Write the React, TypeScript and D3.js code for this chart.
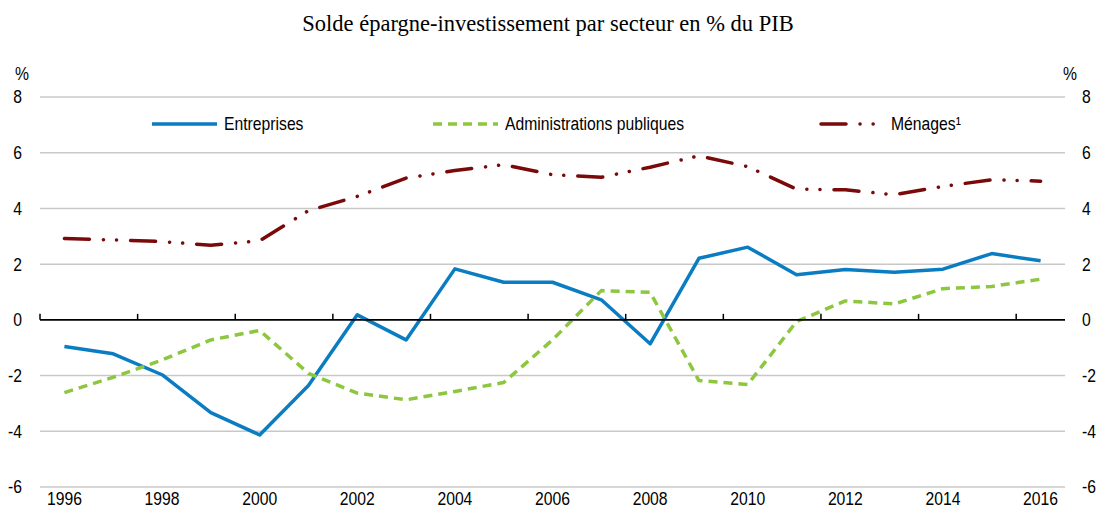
import React from "react";
import * as d3 from "d3";

const years = d3.range(1996, 2017).map(String);
const entreprises = [-0.96, -1.22, -1.97, -3.33, -4.13, -2.36, 0.18, -0.72, 1.83, 1.35, 1.35, 0.72, -0.86, 2.21, 2.61, 1.62, 1.81, 1.71, 1.82, 2.38, 2.12];
const administrations = [-2.61, -2.06, -1.44, -0.72, -0.38, -1.92, -2.63, -2.87, -2.57, -2.25, -0.72, 1.05, 0.99, -2.18, -2.32, -0.06, 0.68, 0.57, 1.12, 1.2, 1.46];
const menages = [2.92, 2.87, 2.81, 2.68, 2.84, 3.92, 4.43, 5.09, 5.36, 5.57, 5.21, 5.12, 5.48, 5.89, 5.5, 4.69, 4.67, 4.49, 4.79, 5.03, 4.98];
const yTicks = [-6, -4, -2, 0, 2, 4, 6, 8];
const xLabelYears = ["1996", "1998", "2000", "2002", "2004", "2006", "2008", "2010", "2012", "2014", "2016"];
const title = "Solde épargne-investissement par secteur en % du PIB";
const seriesNames = ["Entreprises", "Administrations publiques", "Ménages¹"];

const W = 1097, H = 510;
const left = 40, right = 1065, top = 97, bottom = 487;
const FONT = "'Liberation Sans', Arial, sans-serif";
const SX = 0.85;

const BLUE = "#0A7DC2";
const GREEN = "#8DC63F";
const RED = "#7A0A0A";
const RED_DASH = "25 14 0.1 13 0.1 14";

function NText(props: { x: number; y: number; anchor?: string; size?: number; children: React.ReactNode }) {
  const { x, y, anchor = "start", size = 18.5, children } = props;
  return (
    <text
      transform={`translate(${x},${y}) scale(${SX},1)`}
      dy="0.35em"
      textAnchor={anchor}
      fontFamily={FONT}
      fontSize={size}
      fill="#000"
    >
      {children}
    </text>
  );
}

export default function App() {
  const x = d3.scalePoint<string>().domain(years).range([left, right]).padding(0.5);
  const step = x.step();
  const y = d3.scaleLinear().domain([-6, 8]).range([bottom, top]);
  const line = d3.line<number>().x((_, i) => x(years[i]) as number).y((d) => y(d));

  const series = [
    { name: seriesNames[0], data: entreprises, color: BLUE, dash: undefined as string | undefined, lx: 152 },
    { name: seriesNames[1], data: administrations, color: GREEN, dash: "9 6", lx: 433 },
  ];

  const tickYears = years.filter((_, i) => i % 2 === 0);

  return (
    <svg width={W} height={H} style={{ position: "absolute", left: 0, top: 0, display: "block" }}>
      <rect width={W} height={H} fill="#fff" />
      <text x={548} y={31} textAnchor="middle" fontFamily="'Liberation Serif', 'Times New Roman', serif" fontSize={22.5} fill="#000">
        {title}
      </text>
      <NText x={15} y={74}>%</NText>
      <NText x={1063} y={74}>%</NText>
      {yTicks.map((t) => (
        <g key={t}>
          {t !== 0 && (
            <line x1={left} x2={right} y1={y(t)} y2={y(t)} stroke="#C8C8C8" strokeWidth={1.5} />
          )}
          <NText x={22} y={y(t)} anchor="end">{t}</NText>
          <NText x={1082} y={y(t)}>{t}</NText>
        </g>
      ))}
      {xLabelYears.map((yr) => (
        <NText key={yr} x={x(yr) as number} y={499} anchor="middle">{yr}</NText>
      ))}
      <path d={line(menages) || ""} fill="none" stroke={RED} strokeWidth={3.5} strokeDasharray={RED_DASH} strokeLinecap="round" strokeLinejoin="round" />
      {series.map((s) => (
        <path key={s.name} d={line(s.data) || ""} fill="none" stroke={s.color} strokeWidth={3.5} strokeDasharray={s.dash} strokeLinejoin="round" />
      ))}
      <line x1={left} x2={right} y1={y(0)} y2={y(0)} stroke="#000" strokeWidth={1.6} />
      {tickYears.map((yr) => (
        <line key={yr} x1={(x(yr) as number) - step / 2} x2={(x(yr) as number) - step / 2} y1={y(0)} y2={y(0) - 6} stroke="#000" strokeWidth={1.5} />
      ))}
      {series.map((s) => (
        <g key={"lg" + s.name}>
          <line x1={s.lx} x2={s.lx + 65} y1={124} y2={124} stroke={s.color} strokeWidth={3.5} strokeDasharray={s.dash} />
          <NText x={s.lx + 72} y={124}>{s.name}</NText>
        </g>
      ))}
      <line x1={821} x2={876} y1={124} y2={124} stroke={RED} strokeWidth={3.5} strokeDasharray={RED_DASH} strokeLinecap="round" />
      <NText x={891} y={124}>{seriesNames[2]}</NText>
    </svg>
  );
}
